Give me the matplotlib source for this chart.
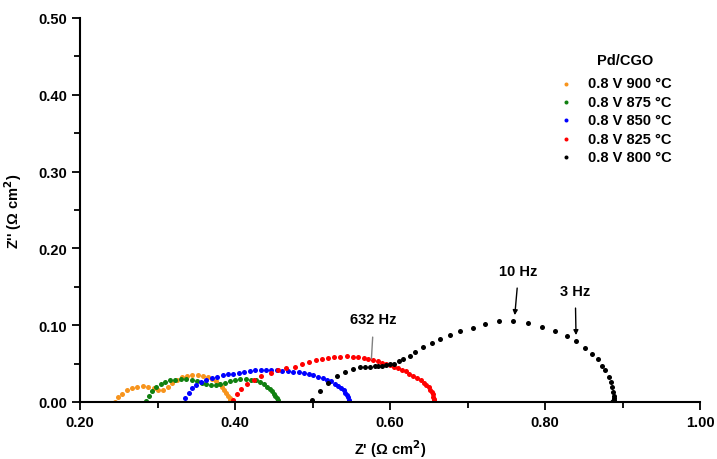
import matplotlib
matplotlib.use("Agg")
from matplotlib import pyplot as plt
from matplotlib.ticker import MultipleLocator, FormatStrFormatter

plt.rcParams['font.family'] = ['Liberation Sans', 'DejaVu Sans']
plt.rcParams['font.weight'] = 'bold'
plt.rcParams['font.size'] = 10.5
plt.rcParams['axes.labelweight'] = 'bold'

# Nyquist data, Z' and Z'' in ohm cm^2
x900 = [0.245, 0.249, 0.254, 0.260, 0.267, 0.274, 0.281, 0.288, 0.295, 0.301,
        0.307, 0.313, 0.319, 0.325, 0.331, 0.338, 0.345, 0.352, 0.359, 0.365,
        0.370, 0.375, 0.379, 0.383, 0.386, 0.389, 0.391, 0.393, 0.394, 0.395]
y900 = [0.000, 0.006, 0.011, 0.015, 0.018, 0.020, 0.021, 0.020, 0.018, 0.016,
        0.016, 0.020, 0.025, 0.029, 0.032, 0.034, 0.035, 0.035, 0.034, 0.032,
        0.030, 0.027, 0.024, 0.020, 0.016, 0.012, 0.008, 0.005, 0.002, 0.000]

x875 = [0.285, 0.289, 0.293, 0.298, 0.304, 0.310, 0.316, 0.323, 0.330, 0.337,
        0.344, 0.351, 0.357, 0.363, 0.369, 0.375, 0.381, 0.387, 0.393, 0.400,
        0.407, 0.414, 0.421, 0.427, 0.432, 0.437, 0.441, 0.445, 0.448, 0.450,
        0.452, 0.454, 0.455, 0.455]
y875 = [0.001, 0.008, 0.014, 0.019, 0.023, 0.026, 0.028, 0.029, 0.030, 0.030,
        0.029, 0.027, 0.025, 0.023, 0.022, 0.022, 0.023, 0.025, 0.027, 0.029,
        0.030, 0.030, 0.029, 0.028, 0.026, 0.023, 0.020, 0.017, 0.014, 0.011,
        0.008, 0.005, 0.002, 0.000]

x850 = [0.335, 0.340, 0.345, 0.350, 0.356, 0.363, 0.370, 0.377, 0.384, 0.391,
        0.398, 0.405, 0.412, 0.419, 0.426, 0.433, 0.440, 0.447, 0.454, 0.461,
        0.468, 0.475, 0.482, 0.489, 0.495, 0.501, 0.507, 0.513, 0.519, 0.524,
        0.529, 0.533, 0.537, 0.540, 0.542, 0.544, 0.546, 0.547, 0.547]
y850 = [0.005, 0.012, 0.018, 0.022, 0.026, 0.029, 0.031, 0.033, 0.035, 0.036,
        0.037, 0.038, 0.039, 0.040, 0.041, 0.041, 0.041, 0.041, 0.041, 0.040,
        0.040, 0.039, 0.039, 0.038, 0.036, 0.035, 0.033, 0.031, 0.029, 0.027,
        0.024, 0.021, 0.018, 0.015, 0.012, 0.009, 0.006, 0.003, 0.001]

x825 = [0.398, 0.402, 0.408, 0.415, 0.424, 0.434, 0.446, 0.456, 0.466, 0.477,
        0.486, 0.495, 0.504, 0.512, 0.520, 0.528, 0.536, 0.544, 0.552, 0.559,
        0.566, 0.572, 0.578, 0.584, 0.590, 0.595, 0.600, 0.605, 0.610, 0.615,
        0.620, 0.625, 0.630, 0.635, 0.640, 0.644, 0.647, 0.650, 0.652, 0.654,
        0.655, 0.656, 0.657, 0.657, 0.657]
y825 = [0.002, 0.010, 0.017, 0.023, 0.029, 0.034, 0.038, 0.041, 0.044, 0.046,
        0.049, 0.052, 0.054, 0.056, 0.057, 0.058, 0.059, 0.0595, 0.059, 0.058,
        0.057, 0.056, 0.055, 0.053, 0.051, 0.050, 0.048, 0.046, 0.044, 0.042,
        0.040, 0.037, 0.034, 0.031, 0.028, 0.025, 0.022, 0.019, 0.016, 0.013,
        0.010, 0.007, 0.004, 0.002, 0.000]

x800 = [0.499, 0.510, 0.520, 0.531, 0.542, 0.552, 0.561, 0.568, 0.574, 0.580,
        0.585, 0.590, 0.595, 0.600, 0.605, 0.611, 0.617, 0.626, 0.632, 0.643,
        0.654, 0.665, 0.677, 0.690, 0.707, 0.723, 0.741, 0.759, 0.778, 0.796,
        0.813, 0.828, 0.840, 0.851, 0.860, 0.868, 0.873, 0.877, 0.882, 0.885,
        0.887, 0.888, 0.889, 0.889, 0.889, 0.888, 0.886]
y800 = [0.002, 0.014, 0.025, 0.034, 0.039, 0.043, 0.045, 0.046, 0.046, 0.047,
        0.047, 0.047, 0.048, 0.049, 0.050, 0.053, 0.056, 0.060, 0.065, 0.071,
        0.077, 0.082, 0.087, 0.092, 0.096, 0.101, 0.105, 0.105, 0.103, 0.098,
        0.093, 0.086, 0.079, 0.070, 0.062, 0.056, 0.047, 0.041, 0.033, 0.026,
        0.019, 0.013, 0.008, 0.005, 0.003, 0.001, 0.000]

labels = ["0.8 V 900 °C", "0.8 V 875 °C", "0.8 V 850 °C", "0.8 V 825 °C", "0.8 V 800 °C"]
colors = ["#F7941D", "#108010", "#0000FF", "#FF0000", "#000000"]

fig = plt.figure(figsize=(7.17, 4.60), dpi=100)
ax = fig.add_axes([0.1116, 0.124, 0.8647, 0.835])

series = [(x900, y900), (x875, y875), (x850, y850), (x825, y825), (x800, y800)]
for (xs, ys), lab, c in zip(series, labels, colors):
    ax.scatter(xs, ys, s=13, color=c, label=lab, linewidths=0)

ax.set_xlim(0.20, 1.00)
ax.set_ylim(0.0, 0.50)
ax.xaxis.set_major_locator(MultipleLocator(0.2))
ax.xaxis.set_minor_locator(MultipleLocator(0.1))
ax.yaxis.set_major_locator(MultipleLocator(0.1))
ax.yaxis.set_minor_locator(MultipleLocator(0.05))
ax.xaxis.set_major_formatter(FormatStrFormatter('%.2f'))
ax.yaxis.set_major_formatter(FormatStrFormatter('%.2f'))
ax.tick_params(which='major', direction='out', length=6, width=1.3)
ax.tick_params(which='minor', direction='out', length=4, width=1.3)
ax.spines['top'].set_visible(False)
ax.spines['right'].set_visible(False)
ax.spines['left'].set_linewidth(1.5)
ax.spines['bottom'].set_linewidth(1.5)

ax.set_xlabel("Z' (Ω cm$^\\mathbf{2}$)", labelpad=6)
ax.set_ylabel("Z'' (Ω cm$^\\mathbf{2}$)", labelpad=10)

# frequency markers
ax.annotate("10 Hz", xy=(0.761, 0.113), xytext=(0.766, 0.170), ha='center', va='center',
            arrowprops=dict(arrowstyle='-|>', color='black', lw=1, mutation_scale=7,
                            shrinkA=5, shrinkB=0))
ax.annotate("3 Hz", xy=(0.840, 0.087), xytext=(0.839, 0.144), ha='center', va='center',
            arrowprops=dict(arrowstyle='-|>', color='black', lw=1, mutation_scale=7,
                            shrinkA=5, shrinkB=0))
ax.annotate("632 Hz", xy=(0.576, 0.056), xytext=(0.579, 0.108), ha='center', va='center',
            arrowprops=dict(arrowstyle='-', color='gray', lw=1, shrinkA=6, shrinkB=0))

ax.text(0.903, 0.445, "Pd/CGO", ha='center', va='center')
ax.legend(loc='upper left', bbox_to_anchor=(0.753, 0.874), frameon=False,
          handletextpad=0.95, labelspacing=0.3, markerscale=0.8,
          handlelength=1.2, borderpad=0.2)

fig.savefig("out.png", dpi=100)
